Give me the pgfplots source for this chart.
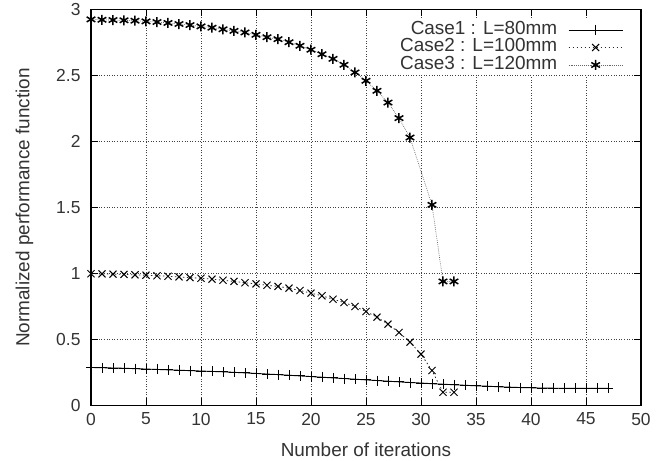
\documentclass[border=0pt]{standalone}
\usepackage{fontspec}
\setmainfont{Liberation Sans}
\usepackage{pgfplots}
\usepackage{pgfplotstable}
\pgfplotsset{compat=1.18}

\pgfplotstableread{
x y
0 0.288
1 0.286
2 0.284
3 0.282
4 0.279
5 0.276
6 0.273
7 0.270
8 0.267
9 0.264
10 0.261
11 0.258
12 0.255
13 0.251
14 0.247
15 0.243
16 0.238
17 0.234
18 0.229
19 0.224
20 0.219
21 0.214
22 0.209
23 0.204
24 0.199
25 0.194
26 0.189
27 0.184
28 0.179
29 0.174
30 0.170
31 0.165
32 0.161
33 0.157
34 0.153
35 0.149
36 0.146
37 0.142
38 0.139
39 0.136
40 0.134
41 0.132
42 0.131
43 0.130
44 0.130
45 0.130
46 0.130
47 0.130
}\caseone

\pgfplotstableread{
x y
0 0.998
1 0.997
2 0.995
3 0.993
4 0.990
5 0.987
6 0.983
7 0.979
8 0.974
9 0.969
10 0.964
11 0.957
12 0.949
13 0.940
14 0.930
15 0.921
16 0.911
17 0.902
18 0.889
19 0.871
20 0.851
21 0.831
22 0.805
23 0.780
24 0.750
25 0.712
26 0.669
27 0.616
28 0.553
29 0.480
30 0.389
31 0.265
32 0.100
33 0.100
}\casetwo

\pgfplotstableread{
x y
0 2.925
1 2.922
2 2.920
3 2.918
4 2.915
5 2.910
6 2.905
7 2.898
8 2.890
9 2.882
10 2.872
11 2.862
12 2.850
13 2.838
14 2.826
15 2.808
16 2.790
17 2.775
18 2.752
19 2.725
20 2.695
21 2.661
22 2.626
23 2.581
24 2.523
25 2.460
26 2.384
27 2.295
28 2.177
29 2.030
31 1.520
32 0.940
33 0.940
}\casethree

\begin{document}
\begin{tikzpicture}[font=\fontsize{19}{22}\selectfont, every node/.style={text=black!80}]
\begin{axis}[
  at={(0,0)}, anchor=south west,
  scale only axis,
  width=550bp, height=396bp,
  xmin=0, xmax=50, ymin=0, ymax=3,
  xtick={0,5,...,50},
  ytick={0,0.5,1,1.5,2,2.5,3},
  yticklabels={0,0.5,1,1.5,2,2.5,3},
  tick align=inside,
  major tick length=7bp,
  tick style={black, line width=0.9bp},
  axis line style={black, line width=1.1bp},
  grid=major,
  grid style={black!75, line width=0.6bp, dash pattern=on 0.8bp off 1.8bp},
  /pgf/number format/assume math mode=true,
  tick label style={font=\fontsize{17.5}{20}\selectfont, text=black!80},
  xticklabel style={yshift=-4bp},
  yticklabel style={xshift=-7bp},
  xlabel={Number of iterations},
  ylabel={Normalized performance function},
  xlabel style={yshift=-11bp},
  ylabel style={yshift=16bp},
  legend style={draw=none, fill=white, at={(0.986,0.974)}, anchor=north east,
     legend cell align=right, row sep=0.5bp, inner xsep=10bp, inner ysep=1.5bp,
     nodes={text height=12bp, text depth=3bp, inner ysep=1bp, inner xsep=1bp},
     /tikz/column 1/.style={column sep=10bp}},
  legend plot pos=right,
  legend image code/.code={\draw[mark repeat=2,mark phase=2] plot coordinates {(0bp,0bp) (27bp,0bp) (54bp,0bp)};},
]
\addplot[black, line width=0.9bp, mark=+, mark size=5bp, mark options={solid, line width=0.9bp}] table[x=x,y=y] {\caseone};
\addlegendentry{Case1 : L=80mm}
\addplot[black!85, line width=0.8bp, dash pattern=on 1.4bp off 2.6bp, mark=x, mark size=5bp, mark options={solid, black, line width=1bp}] table[x=x,y=y] {\casetwo};
\addlegendentry{Case2 : L=100mm}
\addplot[black!60, line width=0.7bp, dash pattern=on 0.7bp off 1.2bp, mark=asterisk, mark size=5bp, mark options={solid, black, line width=1.5bp}] table[x=x,y=y] {\casethree};
\addlegendentry{Case3 : L=120mm}
\end{axis}
\path[use as bounding box] (-91bp,-53bp) rectangle (565bp,404bp);
\end{tikzpicture}
\end{document}
